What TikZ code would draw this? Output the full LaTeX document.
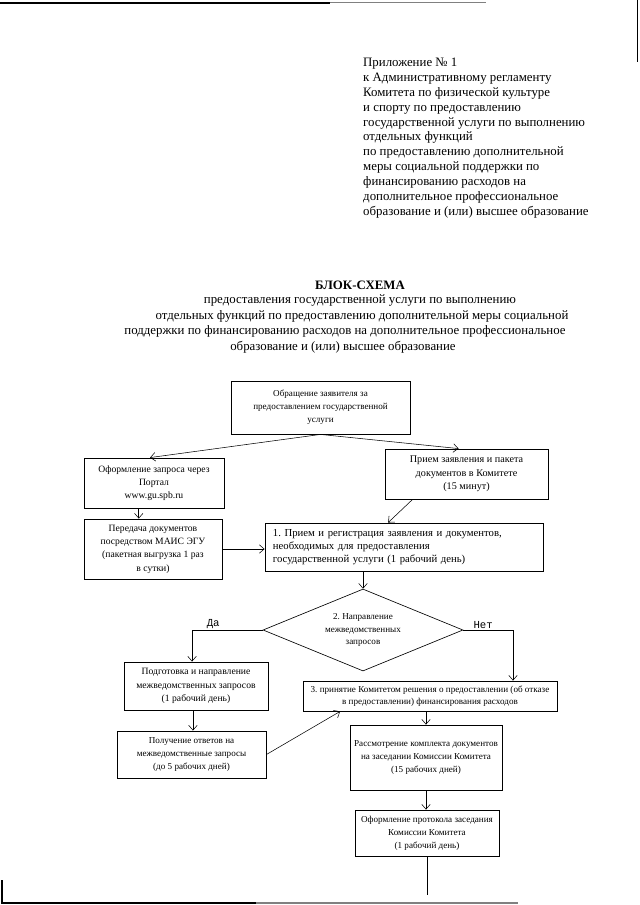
\documentclass[tikz,border=0pt]{standalone}
\usepackage{fontspec}
\setmainfont{Liberation Serif}
\newfontfamily\monolbl{Liberation Mono}
\usetikzlibrary{arrows.meta,shapes.geometric}
\frenchspacing

\tikzset{
  box/.style={draw, line width=0.8pt, inner sep=1pt, align=center,
    font=\fontsize{9}{12.4}\selectfont},
  small/.style={font=\fontsize{8.5}{12}\selectfont},
  wh/.style 2 args={minimum width=#1*0.3281mm, minimum height=#2*0.3281mm},
  arr/.style={-{Straight Barb[length=1.6mm,width=2.8mm]}, line width=0.5pt},
  lbl/.style={font=\monolbl\fontsize{10}{11}\selectfont, inner sep=1.5pt},
  ttl/.style={font=\fontsize{12}{13.85}\selectfont, inner sep=0pt}
}

\begin{document}
\begin{tikzpicture}[x=0.3281mm, y=-0.3281mm]
  \useasboundingbox[fill=white] (0,0) rectangle (640,905);
  % edges of the scanned sheet
  \draw[line width=1.4pt] (0,3) -- (330,3);
  \draw[line width=1pt, gray] (330,2.5) -- (486,2.5);
  \draw[line width=0.7pt] (637,0) -- (637,62);
  \draw[line width=1pt] (2,880) -- (2,903) -- (256,903);
  \draw[line width=1pt, gray] (256,903) -- (518,903);

  % annex header
  \node[ttl, anchor=north west, align=left] (annex) at (363,58) {Приложение № 1\\
    к Административному регламенту\\
    Комитета по физической культуре\\
    и спорту по предоставлению\\
    государственной услуги по выполнению\\
    отдельных функций\\
    по предоставлению дополнительной\\
    меры социальной поддержки по\\
    финансированию расходов на\\
    дополнительное профессиональное\\
    образование и (или) высшее образование};

  % title
  \node[ttl] (t0) at (360,285) {\textbf{БЛОК-СХЕМА}};
  \node[ttl] (t1) at (360,300) {предоставления государственной услуги по выполнению};
  \node[ttl] (t2) at (362,316) {отдельных функций по предоставлению дополнительной меры социальной};
  \node[ttl] (t3) at (345,331) {поддержки по финансированию расходов на дополнительное профессиональное};
  \node[ttl] (t4) at (343,347) {образование и (или) высшее образование};

  % boxes
  \node[box, small, wh={179}{53}] (appl) at (320.5,407.5) {Обращение заявителя за\\предоставлением государственной\\услуги};
  \node[box, wh={140}{50}] (portal) at (154,483) {Оформление запроса через\\Портал\\www.gu.spb.ru};
  \node[box, wh={163}{50}, font=\fontsize{9.5}{12.4}\selectfont] (recv) at (466.5,474) {Прием заявления и пакета\\документов в Комитете\\(15 минут)};
  \node[box, wh={138}{60}] (transfer) at (153,549) {Передача документов\\посредством МАИС ЭГУ\\(пакетная выгрузка 1 раз\\в сутки)};
  \node[box, wh={278}{48}, text width=86mm, align=left, font=\fontsize{10}{12.4}\selectfont] (reg) at (404,547) {1. Прием и регистрация заявления и документов,\\необходимых для предоставления\\государственной услуги (1 рабочий день)};
  \node[box, small, shape=diamond, aspect=2.4, inner sep=0pt, wh={200}{82}, line width=0.6pt] (dia) at (363,630) {2. Направление\\межведомственных\\запросов};
  \node[box, wh={144}{48}] (prep) at (196,686) {Подготовка и направление\\межведомственных запросов\\(1 рабочий день)};
  \node[box, small, wh={149}{47}] (answ) at (191.5,754.5) {Получение ответов на\\межведомственные запросы\\(до 5 рабочих дней)};
  \node[box, wh={254}{30}, font=\fontsize{8.5}{11}\selectfont] (dec) at (430,696) {3. принятие Комитетом решения о предоставлении (об отказе\\в предоставлении) финансирования расходов};
  \node[box, small, wh={152}{65}] (review) at (426,757.5) {Рассмотрение комплекта документов\\на заседании Комиссии Комитета\\(15 рабочих дней)};
  \node[box, small, wh={144}{46}] (proto) at (427,833) {Оформление протокола заседания\\Комиссии Комитета\\(1 рабочий день)};

  \coordinate (noturn) at (513,630);
  \coordinate (tail) at (427,895);

  % connectors
  \draw[arr] (appl.south) -- ([xshift=-1.3mm]portal.north);
  \draw[arr] (appl.south) -- ([xshift=-2.6mm]recv.north);
  \draw[arr] ([xshift=-5mm]portal.south) -- ([xshift=-5mm]portal.south |- transfer.north);
  \draw[arr] ([xshift=-17.7mm]recv.south) -- ([xshift=-5.2mm]reg.north);
  \draw[arr] (transfer.east) -- (transfer.east -| reg.west);
  \draw[arr] (dia.north |- reg.south) -- (dia.north);
  \draw[arr] (dia.west) -- node[lbl, above, pos=0.7] (yes) {Да} ([xshift=-1.3mm]prep.north |- dia.west) -- ([xshift=-1.3mm]prep.north);
  \draw[arr] (dia.east) -- node[lbl, above, pos=0.4] (no) {Нет} (noturn) -- (noturn |- dec.north);
  \draw[arr] ([xshift=-1mm]prep.south) -- ([xshift=-1mm]prep.south |- answ.north);
  \draw[arr] (answ.east) -- ([xshift=-29.5mm]dec.south);
  \draw[arr] (review.north |- dec.south) -- (review.north);
  \draw[arr] (review.south) -- (review.south |- proto.north);
  \draw[line width=0.5pt] (proto.south) -- (tail);
\end{tikzpicture}
\end{document}
